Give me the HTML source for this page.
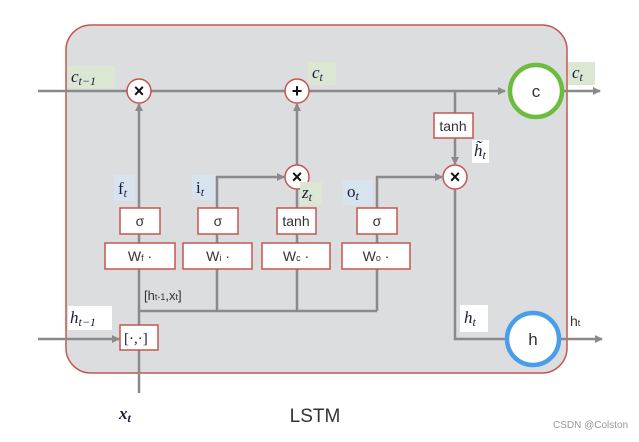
<!DOCTYPE html>
<html><head><meta charset="utf-8"><style>
body{margin:0;background:#fff;width:639px;height:437px;overflow:hidden}
svg text{font-family:"Liberation Sans",sans-serif}
svg .m text{font-family:"Liberation Serif",serif;font-style:italic}
svg .s text{font-family:"Liberation Serif",serif}
</style></head><body>
<svg width="639" height="437" viewBox="0 0 639 437" xmlns="http://www.w3.org/2000/svg">
<defs><marker id="a" markerWidth="8" markerHeight="8" refX="7" refY="4" orient="auto" markerUnits="userSpaceOnUse"><path d="M0,0 L8,4 L0,8z" fill="#8a8a8a"/></marker></defs>
<rect x="66" y="25" width="501" height="348" rx="25" fill="#dcdddf" stroke="#c5564f" stroke-width="1.5"/>
<g stroke="#8a8a8a" stroke-width="2.5" fill="none">
<line x1="38" y1="91" x2="127" y2="91"/>
<line x1="151" y1="91" x2="285" y2="91"/>
<line x1="309" y1="91" x2="505" y2="91" marker-end="url(#a)"/>
<line x1="564" y1="91" x2="600" y2="91" marker-end="url(#a)"/>
<line x1="455" y1="91" x2="455" y2="113"/>
<line x1="455" y1="138" x2="455" y2="164" marker-end="url(#a)"/>
<line x1="139" y1="208" x2="139" y2="104" marker-end="url(#a)"/>
<line x1="297" y1="165" x2="297" y2="104" marker-end="url(#a)"/>
<polyline points="217,208 217,177 284,177" marker-end="url(#a)"/>
<line x1="297" y1="208" x2="297" y2="189"/>
<polyline points="377,208 377,177 442,177" marker-end="url(#a)"/>
<line x1="139" y1="234" x2="139" y2="243"/><line x1="217" y1="234" x2="217" y2="243"/><line x1="297" y1="234" x2="297" y2="243"/><line x1="377" y1="234" x2="377" y2="243"/>
<polyline points="139,269 139,325"/>
<line x1="217" y1="269" x2="217" y2="311"/><line x1="297" y1="269" x2="297" y2="311"/><line x1="377" y1="269" x2="377" y2="311"/>
<line x1="139" y1="311" x2="377" y2="311"/>
<line x1="139" y1="350" x2="139" y2="393"/>
<line x1="38" y1="339" x2="119" y2="339" marker-end="url(#a)"/>
<polyline points="455,189 455,339 506,339"/>
<line x1="560" y1="339" x2="602" y2="339" marker-end="url(#a)"/>
</g>
<g stroke="#c5564f" stroke-width="1.5" fill="#fff">
<circle cx="139" cy="91" r="12"/><circle cx="297" cy="91" r="12"/><circle cx="297" cy="177" r="12"/><circle cx="455" cy="177" r="12"/>
<rect x="434" y="113" width="39" height="25"/>
<rect x="120" y="208" width="40" height="26"/><rect x="198" y="208" width="40" height="26"/><rect x="277" y="208" width="39" height="26"/><rect x="357" y="208" width="40" height="26"/>
<rect x="105" y="243" width="70" height="26"/><rect x="183" y="243" width="69" height="26"/><rect x="262" y="243" width="68" height="26"/><rect x="342" y="243" width="68" height="26"/>
<rect x="120" y="325" width="38" height="25"/>
</g>
<g font-size="18" font-weight="bold" text-anchor="middle" fill="#111">
<text x="139" y="97">×</text><text x="297" y="97">+</text><text x="297" y="183">×</text><text x="455" y="183">×</text>
</g>
<circle cx="536" cy="91" r="26" fill="#fff" stroke="#6cbd3e" stroke-width="4.5"/>
<text x="536" y="97" font-size="17" text-anchor="middle" fill="#333">c</text>
<circle cx="533" cy="339" r="26" fill="#fff" stroke="#4a9de8" stroke-width="4.5"/>
<text x="533" y="345" font-size="17" text-anchor="middle" fill="#333">h</text>
<g fill="#dbe6d3"><rect x="68" y="66" width="47" height="22"/><rect x="308" y="62" width="28" height="23"/><rect x="568" y="62" width="27" height="23"/><rect x="300" y="182" width="22" height="23"/></g>
<g fill="#d7e3ee"><rect x="114" y="175" width="21" height="26"/><rect x="192" y="175" width="23" height="25"/><rect x="343" y="180" width="30" height="25"/></g>
<g fill="#fff"><rect x="472" y="140" width="17" height="23"/><rect x="68" y="306" width="44" height="24"/><rect x="460" y="305" width="28" height="27"/><rect x="114" y="402" width="36" height="26"/></g>
<g class="m" font-size="17" fill="#1a1a40">
<text x="71" y="82">c<tspan font-size="12" dy="3">t−1</tspan></text>
<text x="312" y="78">c<tspan font-size="12" dy="3">t</tspan></text>
<text x="572" y="78">c<tspan font-size="12" dy="3">t</tspan></text>
<text x="302" y="198">z<tspan font-size="12" dy="3">t</tspan></text>
<text x="474" y="156">h̃<tspan font-size="12" dy="3">t</tspan></text>
<text x="70" y="323">h<tspan font-size="12" dy="3">t−1</tspan></text>
<text x="464" y="323">h<tspan font-size="12" dy="3">t</tspan></text>
<text x="119" y="419" font-weight="bold">x<tspan font-size="12" dy="3">t</tspan></text>
</g>
<g class="s" font-size="17" fill="#1a1a40">
<text x="118" y="194">f<tspan font-size="12" dy="3" font-style="italic">t</tspan></text>
<text x="196" y="193">i<tspan font-size="12" dy="3" font-style="italic">t</tspan></text>
<text x="347" y="197">o<tspan font-size="12" dy="3" font-style="italic">t</tspan></text>
<text x="124" y="343" font-size="15">[·,·]</text>
</g>
<g font-size="14" fill="#333" text-anchor="middle">
<text x="453" y="131">tanh</text>
<text x="140" y="226">σ</text><text x="218" y="226">σ</text><text x="296" y="226">tanh</text><text x="377" y="226">σ</text>
<text x="140" y="261">W<tspan font-size="9">f</tspan> ·</text>
<text x="218" y="261">W<tspan font-size="9">i</tspan> ·</text>
<text x="296" y="261">W<tspan font-size="9">c</tspan> ·</text>
<text x="376" y="261">W<tspan font-size="9">o</tspan> ·</text>
</g>
<text x="144" y="300" font-size="13" fill="#333">[h<tspan font-size="9">t-1</tspan>,x<tspan font-size="9">t</tspan>]</text>
<text x="570" y="326" font-size="14" fill="#333">h<tspan font-size="9">t</tspan></text>
<text x="315" y="422" font-size="19" fill="#333" text-anchor="middle">LSTM</text>
<text x="553" y="428" font-size="10" fill="#999">CSDN @Colston</text>
</svg>
</body></html>
